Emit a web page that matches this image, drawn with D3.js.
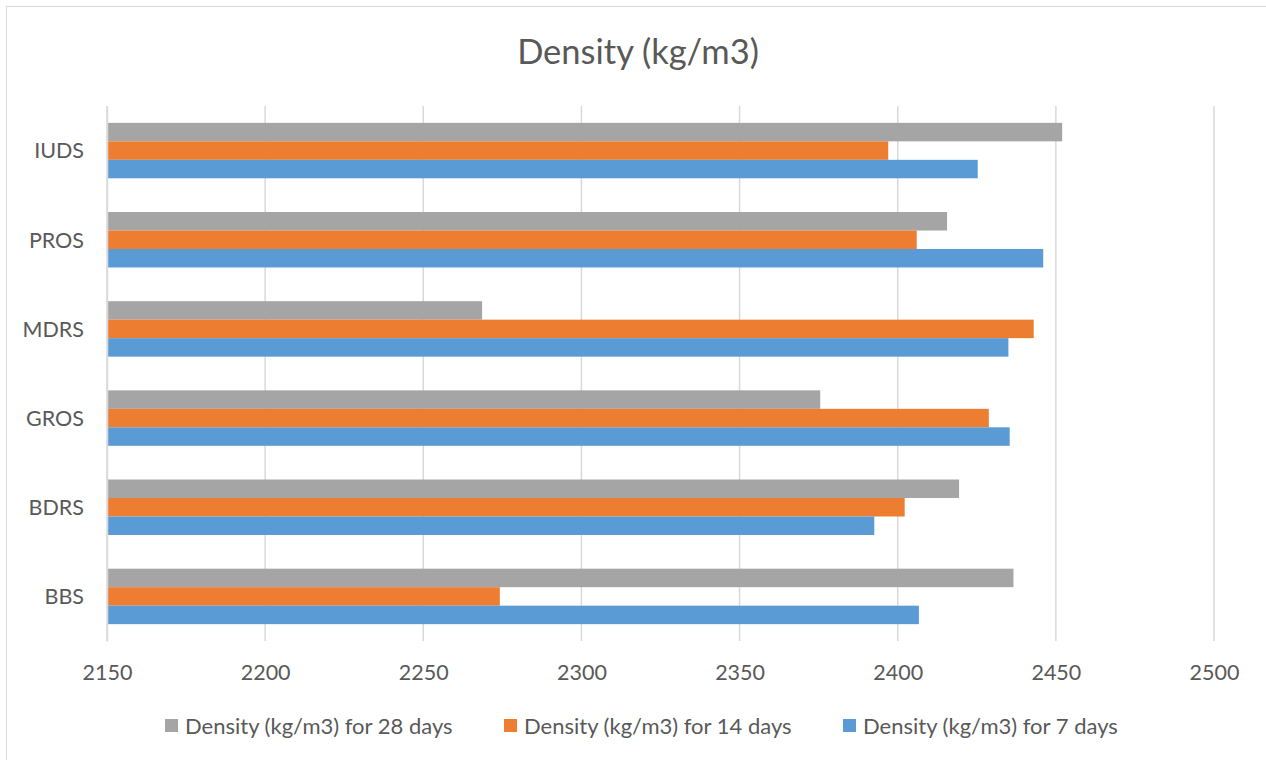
<!DOCTYPE html>
<html>
<head>
<meta charset="utf-8">
<script src="https://cdn.jsdelivr.net/npm/d3@7"></script>
<style>
  body { margin: 0; background: #fff; }
  svg text { font-family: Lato, "Open Sans", sans-serif; fill: #595959; }
</style>
</head>
<body>
<svg id="chart"></svg>
<script>
// categories from top to bottom
const categories = ["IUDS", "PROS", "MDRS", "GROS", "BDRS", "BBS"];
const seriesNames = [
    "Density (kg/m3) for 28 days",
    "Density (kg/m3) for 14 days",
    "Density (kg/m3) for 7 days"
];
const seriesColors = ["#A5A5A5", "#ED7D31", "#5B9BD5"];

// values per category, same order as categories
const days28 = [2452, 2415.6, 2268.6, 2375.5, 2419.4, 2436.6];
const days14 = [2397, 2406, 2443, 2428.8, 2402.2, 2274.2];
const days7  = [2425.3, 2446, 2435, 2435.4, 2392.6, 2406.7];
const seriesValues = [days28, days14, days7];

const xTicks = [2150, 2200, 2250, 2300, 2350, 2400, 2450, 2500];

function main() {
    const canvasWidth = 1266;
    const canvasHeight = 760;

    const svg = d3.select("#chart")
        .attr("width", canvasWidth)
        .attr("height", canvasHeight);

    // outer chart border
    svg.append("rect")
        .attr("x", 6.5).attr("y", 6.5)
        .attr("width", canvasWidth + 20).attr("height", canvasHeight + 20)
        .attr("fill", "none")
        .attr("stroke", "#D9D9D9")
        .attr("stroke-width", 1);

    const plotLeft = 107;
    const plotRight = 1214;
    const plotTop = 106;
    const plotBottom = 641;

    let x = d3.scaleLinear()
        .domain([2150, 2500])
        .range([plotLeft, plotRight]);

    let y = d3.scaleBand()
        .domain(categories)
        .range([plotTop, plotBottom])
        .paddingInner(0.378)
        .paddingOuter(0.189);

    let ySub = d3.scaleBand()
        .domain(d3.range(seriesNames.length))
        .range([0, y.bandwidth()])
        .padding(0);

    // vertical gridlines
    svg.append("g")
        .selectAll("line")
        .data(xTicks)
        .join("line")
        .attr("x1", d => x(d)).attr("x2", d => x(d))
        .attr("y1", plotTop).attr("y2", plotBottom)
        .attr("stroke", "#D9D9D9")
        .attr("stroke-width", 1.5);

    // bars
    const rows = [];
    categories.forEach((c, i) => {
        seriesValues.forEach((vals, s) => {
            rows.push({ cat: c, s: s, v: vals[i] });
        });
    });

    svg.append("g")
        .selectAll("rect")
        .data(rows)
        .join("rect")
        .attr("x", x(2150))
        .attr("y", d => y(d.cat) + ySub(d.s))
        .attr("width", d => x(d.v) - x(2150))
        .attr("height", ySub.bandwidth())
        .attr("fill", d => seriesColors[d.s]);

    // x axis labels
    const xAxis = svg.append("g")
        .attr("transform", `translate(0, ${plotBottom})`)
        .call(d3.axisBottom(x).tickValues(xTicks).tickSize(0).tickPadding(24).tickFormat(d3.format("d")));
    xAxis.select(".domain").remove();
    xAxis.selectAll("text")
        .attr("font-size", 21.5)
        .style("font-family", "Lato, 'Open Sans', sans-serif")
        .attr("fill", "#595959");

    // y axis line + labels
    const yAxis = svg.append("g")
        .attr("transform", `translate(${plotLeft}, 0)`)
        .call(d3.axisLeft(y).tickSize(0).tickPadding(23));
    yAxis.select(".domain")
        .attr("stroke", "#D9D9D9")
        .attr("stroke-width", 1.5);
    yAxis.selectAll("text")
        .attr("font-size", 21.5)
        .attr("dy", "0.36em")
        .style("font-family", "Lato, 'Open Sans', sans-serif")
        .attr("fill", "#595959");

    // title
    svg.append("text")
        .text("Density (kg/m3)")
        .attr("x", 638)
        .attr("y", 64)
        .attr("font-size", 34.5)
        .style("text-anchor", "middle");

    // legend
    const legendX = [165, 504, 843];
    const legend = svg.append("g")
        .selectAll("g")
        .data(seriesNames)
        .join("g")
        .attr("transform", (d, i) => `translate(${legendX[i]}, 726)`);
    legend.append("rect")
        .attr("x", 0).attr("y", -7)
        .attr("width", 13).attr("height", 13)
        .attr("fill", (d, i) => seriesColors[i]);
    legend.append("text")
        .text(d => d)
        .attr("x", 20)
        .attr("y", 7.5)
        .attr("font-size", 22);
}

main();
</script>
</body>
</html>
